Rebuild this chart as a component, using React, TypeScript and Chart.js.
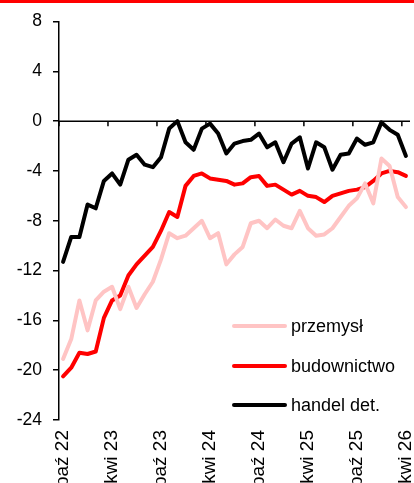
import React, { useEffect, useRef } from "react";
import { Chart, registerables } from "chart.js";

Chart.register(...registerables);

const categories = [
  "paź 22", "lis 22", "gru 22",
  "sty 23", "lut 23", "mar 23", "kwi 23", "maj 23", "cze 23", "lip 23", "sie 23", "wrz 23", "paź 23", "lis 23", "gru 23",
  "sty 24", "lut 24", "mar 24", "kwi 24", "maj 24", "cze 24", "lip 24", "sie 24", "wrz 24", "paź 24", "lis 24", "gru 24",
  "sty 25", "lut 25", "mar 25", "kwi 25", "maj 25", "cze 25", "lip 25", "sie 25", "wrz 25", "paź 25", "lis 25", "gru 25",
  "sty 26", "lut 26", "mar 26", "kwi 26",
];

const przemysl = [
  -19.1, -17.5, -14.4, -16.8, -14.4, -13.7, -13.3, -15.1, -13.3, -15.0, -13.9, -12.9, -11.1, -9.0, -9.4,
  -9.2, -8.6, -8.0, -9.4, -9.0, -11.5, -10.7, -10.1, -8.2, -8.0, -8.6, -7.9, -8.4, -8.6, -7.2,
  -8.6, -9.2, -9.1, -8.6, -7.7, -6.8, -6.2, -5.0, -6.6, -3.0, -3.6, -6.1, -6.9,
];

const budownictwo = [
  -20.5, -19.8, -18.6, -18.7, -18.5, -15.8, -14.4, -14.0, -12.4, -11.5, -10.8, -10.1, -8.8, -7.3, -7.7,
  -5.2, -4.4, -4.2, -4.6, -4.7, -4.8, -5.1, -5.0, -4.5, -4.4, -5.2, -5.1, -5.5, -5.9, -5.6,
  -6.0, -6.1, -6.5, -6.0, -5.8, -5.6, -5.5, -5.3, -4.8, -4.2, -4.0, -4.1, -4.4,
];

const handelDet = [
  -11.3, -9.3, -9.3, -6.7, -7.0, -4.8, -4.2, -5.1, -3.1, -2.7, -3.5, -3.7, -2.9, -0.6, 0.0,
  -1.7, -2.3, -0.6, -0.2, -1.0, -2.6, -1.8, -1.6, -1.5, -1.0, -2.1, -1.7, -3.3, -1.8, -1.3,
  -3.8, -1.7, -2.1, -3.9, -2.7, -2.6, -1.4, -1.9, -1.7, -0.1, -0.7, -1.1, -2.8,
];

const seriesNames = ["przemysł", "budownictwo", "handel det."];
const seriesColors = ["#FFC4C4", "#FF0000", "#000000"];
const yTicks = { min: -24, max: 8, step: 4 };
const labelEvery = 6;

const FONT = "Arial, 'Liberation Sans', sans-serif";

const zeroLinePlugin = {
  id: "zeroLine",
  beforeDatasetsDraw(chart: any) {
    const { ctx, chartArea, scales } = chart;
    const x = scales.x;
    const y = scales.y;
    const y0 = y.getPixelForValue(0);
    const half = (x.getPixelForValue(1) - x.getPixelForValue(0)) / 2;
    ctx.save();
    ctx.strokeStyle = "#000";
    ctx.lineWidth = 1.5;
    ctx.beginPath();
    ctx.moveTo(chartArea.left, y0);
    ctx.lineTo(chartArea.right, y0);
    for (let i = 0; i < categories.length; i += labelEvery) {
      const px = x.getPixelForValue(i) - half;
      ctx.moveTo(px, y0);
      ctx.lineTo(px, y0 + 5);
    }
    ctx.stroke();
    ctx.restore();
  },
};

export default function App() {
  const canvasRef = useRef<HTMLCanvasElement | null>(null);

  useEffect(() => {
    document.body.style.margin = "0";
    const canvas = canvasRef.current;
    if (!canvas) return;
    const seriesData = [przemysl, budownictwo, handelDet];
    const chart = new Chart(canvas, {
      type: "line",
      data: {
        labels: categories,
        datasets: seriesData.map((d, i) => ({
          label: seriesNames[i],
          data: d,
          borderColor: seriesColors[i],
          backgroundColor: seriesColors[i],
          borderWidth: 4,
          pointRadius: 0,
          tension: 0,
          fill: false,
          borderJoinStyle: "round" as const,
          borderCapStyle: "round" as const,
        })),
      },
      options: {
        responsive: true,
        maintainAspectRatio: false,
        animation: false,
        layout: { padding: { top: 21, right: 4, left: 0, bottom: 0 } },
        plugins: { legend: { display: false }, tooltip: { enabled: false } },
        scales: {
          x: {
            type: "category",
            offset: true,
            grid: { display: false, drawTicks: false, offset: true },
            border: { display: false },
            ticks: {
              autoSkip: false,
              minRotation: 90,
              maxRotation: 90,
              padding: 10,
              color: "#000",
              font: { family: FONT, size: 19 },
              callback: (_v: any, i: number) => (i % labelEvery === 0 ? categories[i] : ""),
            },
            afterFit: (s: any) => {
              s.height = 63;
              s.paddingLeft = 0;
              s.paddingRight = 0;
            },
          },
          y: {
            min: yTicks.min,
            max: yTicks.max,
            ticks: { stepSize: yTicks.step, padding: 11, color: "#000", font: { family: FONT, size: 17.5 } },
            grid: { display: true, drawOnChartArea: false, drawTicks: true, tickLength: 6, color: "#000", lineWidth: 1.5 },
            border: { display: true, color: "#000", width: 1.5 },
            afterFit: (s: any) => {
              s.width = 59;
            },
          },
        },
      },
      plugins: [zeroLinePlugin],
    });
    return () => chart.destroy();
  }, []);

  const legendRows = [326, 366, 405];

  return (
    <div style={{ position: "fixed", left: 0, top: 0, width: 414, height: 483, overflow: "hidden", background: "#fff" }}>
      <div style={{ position: "absolute", left: 0, top: 0, width: 414, height: 483 }}>
        <canvas ref={canvasRef} />
      </div>
      <div style={{ position: "absolute", left: 0, top: 0, width: 414, height: 3, background: "#FF0000" }} />
      {seriesNames.map((name, i) => (
        <div
          key={name}
          style={{
            position: "absolute",
            left: 232,
            top: legendRows[i] - 12,
            height: 24,
            display: "flex",
            alignItems: "center",
            fontFamily: FONT,
            fontSize: 18,
            color: "#000",
            whiteSpace: "nowrap",
          }}
        >
          <div style={{ width: 55, height: 4, background: seriesColors[i], borderRadius: 2, marginRight: 4 }} />
          <span>{name}</span>
        </div>
      ))}
    </div>
  );
}
